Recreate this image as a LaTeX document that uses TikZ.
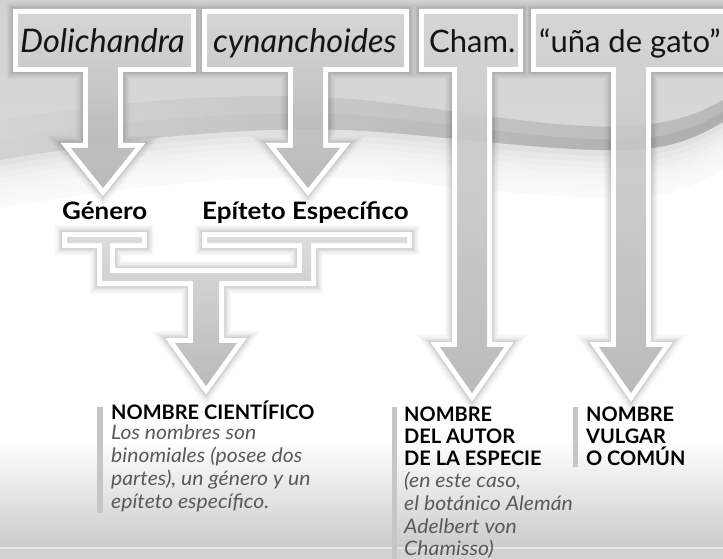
\documentclass[tikz,border=0pt]{standalone}
\usepackage{fontspec}
\setmainfont{Lato}
\newfontfamily\midfont[FakeStretch=1.08]{Lato}
\newfontfamily\bodyfont[FakeStretch=1.06]{Lato}
\definecolor{topgrayA}{HTML}{D3D3D3}
\definecolor{topgrayB}{HTML}{DEDEDE}
\definecolor{bandL}{HTML}{D2D2D2}
\definecolor{bandR}{HTML}{A2A2A2}
\definecolor{shapeTop}{HTML}{D6D6D6}
\definecolor{shapeBot}{HTML}{AFAFAF}
\definecolor{bodygray}{HTML}{5A5A5A}
\definecolor{barcol}{HTML}{C6C6C6}
\definecolor{botgray}{HTML}{CBCBCB}
\definecolor{botline}{HTML}{E6E6E6}
\definecolor{botgray2}{HTML}{D3D3D3}
\def\Lreg{(0,160) .. controls (150,134) and (280,124) .. (380,132) .. controls (470,139) and (560,152) .. (630,150) .. controls (680,148) and (705,132) .. (723,122) -- (723,400) -- (0,400) -- cycle}
\def\ShA{(18,14) -- (191,14) -- (191,67) -- (118,67) -- (118,148) -- (135,148) -- (103,188) -- (71,148) -- (88,148) -- (88,67) -- (18,67) -- cycle}
\def\ShB{(207,14) -- (404,14) -- (404,67) -- (323,67) -- (323,148) -- (340,148) -- (308,188) -- (276,148) -- (293,148) -- (293,67) -- (207,67) -- cycle}
\def\ShC{(424,14) -- (518,14) -- (518,67) -- (487,67) -- (487,347) -- (504,347) -- (472,393) -- (440,347) -- (457,347) -- (457,67) -- (424,67) -- cycle}
\def\ShD{(536,14) -- (760,14) -- (760,67) -- (646,67) -- (646,347) -- (663,347) -- (631,393) -- (599,347) -- (616,347) -- (616,67) -- (536,67) -- cycle}
\def\ShE{(67,237) -- (142,237) -- (142,243) -- (110,243) -- (110,273) -- (302,273) -- (302,243) -- (207,243) -- (207,237) -- (407,237) -- (407,243) -- (311,243) -- (311,281) -- (219,281) -- (219,343) -- (237,343) -- (206,386) -- (175,343) -- (193,343) -- (193,281) -- (102,281) -- (102,243) -- (67,243) -- cycle}
\begin{document}
\begin{tikzpicture}[x=1pt,y=-1pt,
  toplbl/.style={anchor=base west, inner sep=0pt, font=\fontsize{31}{36}\selectfont, text=black!92},
  topital/.style={toplbl, font=\fontsize{32.5}{36}\selectfont\itshape},
  midlbl/.style={anchor=base west, inner sep=0pt, font=\midfont\fontsize{24}{28}\selectfont\bfseries, text=black},
  headlbl/.style={anchor=base west, inner sep=0pt, font=\fontsize{20}{22}\selectfont\bfseries, text=black},
  bodylbl/.style={anchor=base west, inner sep=0pt, font=\bodyfont\fontsize{20}{23}\selectfont\itshape, text=bodygray},
  rulebar/.style={fill=barcol},
  shapefill/.style={top color=shapeTop, bottom color=shapeBot, fill opacity=0.85},
]
\useasboundingbox (0,0) rectangle (723,559);
% ---------- background ----------
\fill[white] (0,0) rectangle (723,559);
\shade[top color=topgrayA, bottom color=topgrayB] (0,0) rectangle (723,330);
\foreach \d in {0,6,...,42} {
  \fill[white, fill opacity=0.25, yshift=-\d pt] \Lreg;
}
\fill[white, yshift=-48pt] \Lreg;
\shade[left color=bandL, right color=bandR, fill opacity=0.55]
  (0,120) .. controls (150,96) and (280,90) .. (380,102) .. controls (470,112) and (560,130) .. (630,126) .. controls (680,123) and (705,110) .. (723,100)
  -- (723,122) .. controls (705,132) and (680,148) .. (630,150) .. controls (560,152) and (470,139) .. (380,132) .. controls (280,124) and (150,134) .. (0,160) -- cycle;
\shade[left color=bandL, right color=bandR, fill opacity=0.5]
  (0,140) .. controls (150,116) and (280,108) .. (380,117) .. controls (470,126) and (560,142) .. (630,139) .. controls (680,137) and (705,122) .. (723,112)
  -- (723,122) .. controls (705,132) and (680,148) .. (630,150) .. controls (560,152) and (470,139) .. (380,132) .. controls (280,124) and (150,134) .. (0,160) -- cycle;
% bottom gradient
\shade[top color=white, bottom color=botgray] (0,440) rectangle (723,548);
\fill[botgray2] (0,548) rectangle (723,559);
\draw[botline, line width=1.5pt] (0,548) -- (723,548);
% ---------- shapes: shadow + white border outside ----------
\begin{scope}[even odd rule]
  \clip (-50,-50) rectangle (800,650) \ShA \ShB \ShC \ShD \ShE;
  \foreach \w/\o in {24/0.03, 20/0.04, 16/0.05, 13/0.06} {
    \draw[black, draw opacity=\o, line width=\w pt, line join=miter] \ShA \ShB \ShC \ShD \ShE;
  }
  \draw[white, line width=10pt, line join=miter] \ShA \ShB \ShC \ShD \ShE;
\end{scope}
\shade[shapefill] \ShA;
\shade[shapefill] \ShB;
\shade[shapefill] \ShC;
\shade[shapefill] \ShD;
\shade[shapefill] \ShE;
% ---------- top labels ----------
\node[topital] (gen) at (20,53) {Dolichandra};
\node[topital] (epi) at (213,53) {cynanchoides};
\node[toplbl] (aut) at (429,53) {Cham.};
\node[toplbl] (vul) at (539,53) {“uña de gato”};
% ---------- middle labels ----------
\node[midlbl] (genero) at (62,219) {Género};
\node[midlbl] (epiteto) at (202,219) {Epíteto Específico};
% ---------- bars ----------
\fill[rulebar] (97,407) rectangle (103,513);
\fill[rulebar] (392,407) rectangle (397,559);
\fill[rulebar] (573,407) rectangle (578,467);
% ---------- column 1 ----------
\node[headlbl] (h1) at (111,419) {NOMBRE CIENTÍFICO};
\node[bodylbl] (b11) at (111,439) {Los nombres son};
\node[bodylbl] (b12) at (111,462) {binomiales (posee dos};
\node[bodylbl] (b13) at (111,485) {partes), un género y un};
\node[bodylbl] (b14) at (111,508) {epíteto específico.};
% ---------- column 2 ----------
\node[headlbl] (h21) at (404,421) {NOMBRE};
\node[headlbl] (h22) at (404,443) {DEL AUTOR};
\node[headlbl] (h23) at (404,465) {DE LA ESPECIE};
\node[bodylbl] (b21) at (404,487) {(en este caso,};
\node[bodylbl] (b22) at (404,510) {el botánico Alemán};
\node[bodylbl] (b23) at (404,533) {Adelbert von};
\node[bodylbl] (b24) at (404,555) {Chamisso)};
% ---------- column 3 ----------
\node[headlbl] (h31) at (586,421) {NOMBRE};
\node[headlbl] (h32) at (586,443) {VULGAR};
\node[headlbl] (h33) at (586,465) {O COMÚN};
\end{tikzpicture}
\end{document}
